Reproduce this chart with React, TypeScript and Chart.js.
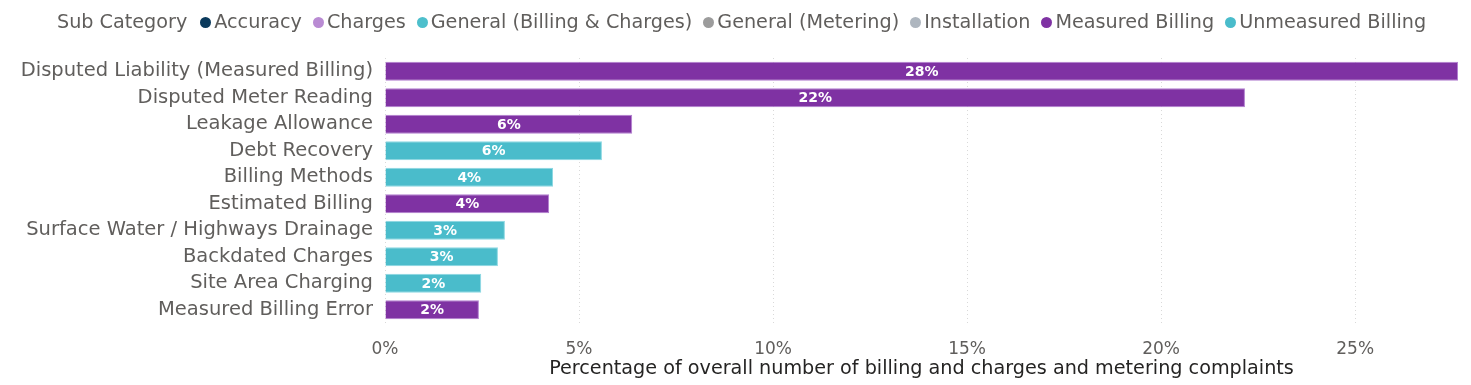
import React, { useEffect, useRef } from 'react';
import { Chart, registerables } from 'chart.js';

Chart.register(...registerables);

const categories = [
  'Disputed Liability (Measured Billing)',
  'Disputed Meter Reading',
  'Leakage Allowance',
  'Debt Recovery',
  'Billing Methods',
  'Estimated Billing',
  'Surface Water / Highways Drainage',
  'Backdated Charges',
  'Site Area Charging',
  'Measured Billing Error',
];

const values = [27.65, 22.16, 6.37, 5.59, 4.33, 4.23, 3.09, 2.91, 2.48, 2.42];

const subCategoryOfBar = [
  'Measured Billing',
  'Measured Billing',
  'Measured Billing',
  'Unmeasured Billing',
  'Unmeasured Billing',
  'Measured Billing',
  'Unmeasured Billing',
  'Unmeasured Billing',
  'Unmeasured Billing',
  'Measured Billing',
];

const legendTitle = 'Sub Category';
const legendItems = [
  'Accuracy',
  'Charges',
  'General (Billing & Charges)',
  'General (Metering)',
  'Installation',
  'Measured Billing',
  'Unmeasured Billing',
];
const legendColors = ['#0B3A5C', '#B98BD3', '#4DBFCC', '#9C9C9C', '#AEB6BF', '#7F32A3', '#4ABCCB'];
const borderColors: Record<string, string> = {
  'Measured Billing': '#B27FD0',
  'Unmeasured Billing': '#8CD8E2',
};

const xTickStep = 5;
const xAxisTitle = 'Percentage of overall number of billing and charges and metering complaints';

const FONT = '"DejaVu Sans", sans-serif';

const colorOf = (s: string) => legendColors[legendItems.indexOf(s)];

const valueLabels = {
  id: 'valueLabels',
  afterDatasetsDraw(chart: any) {
    const ctx = chart.ctx;
    const meta = chart.getDatasetMeta(0);
    ctx.save();
    ctx.font = `bold 14px ${FONT}`;
    ctx.fillStyle = '#ffffff';
    ctx.textAlign = 'center';
    ctx.textBaseline = 'middle';
    meta.data.forEach((el: any, i: number) => {
      const v = chart.data.datasets[0].data[i] as number;
      const cx = (el.x + el.base) / 2;
      ctx.fillText(Math.round(v) + '%', cx, el.y + 1);
    });
    ctx.restore();
  },
};

export default function App() {
  const ref = useRef<HTMLCanvasElement | null>(null);

  useEffect(() => {
    document.body.style.margin = '0';
    if (!ref.current) return;
    const chart = new Chart(ref.current, {
      type: 'bar',
      data: {
        labels: categories,
        datasets: [
          {
            data: values,
            backgroundColor: subCategoryOfBar.map(colorOf),
            borderColor: subCategoryOfBar.map((s) => borderColors[s]),
            borderWidth: 1,
            barPercentage: 0.72,
            categoryPercentage: 1,
          },
        ],
      },
      options: {
        indexAxis: 'y',
        animation: false,
        responsive: false,
        maintainAspectRatio: false,
        layout: { padding: { top: 58, right: 13, bottom: 0, left: 0 } },
        plugins: {
          legend: { display: false },
          tooltip: { enabled: false },
        },
        scales: {
          x: {
            min: 0,
            max: Math.max(...values),
            afterBuildTicks: (scale: any) => {
              scale.ticks = scale.ticks.filter((t: any) => t.value % xTickStep === 0);
            },
            afterFit: (scale: any) => {
              scale.height = 62;
            },
            ticks: {
              stepSize: xTickStep,
              padding: 16,
              color: '#605E5C',
              font: { family: FONT, size: 17 },
              callback: (v: any) => v + '%',
            },
            grid: { color: '#d9d9d9', drawTicks: false, lineWidth: 1 },
            border: { display: false, dash: [1, 3] },
            title: {
              display: true,
              text: xAxisTitle,
              color: '#252423',
              font: { family: FONT, size: 19.2 },
              padding: { top: 0, bottom: 4 },
            },
          },
          y: {
            ticks: {
              padding: 12,
              color: '#605E5C',
              font: { family: FONT, size: 19.5 },
              autoSkip: false,
            },
            grid: { display: false, drawTicks: false },
            border: { display: false },
            afterFit: (scale: any) => {
              scale.width = 385;
            },
          },
        },
      },
      plugins: [valueLabels],
    });
    return () => chart.destroy();
  }, []);

  return (
    <div style={{ position: 'relative', width: 1471, height: 385, background: '#fff' }}>
      <canvas ref={ref} width={1471} height={385} style={{ display: 'block' }} />
      <div
        style={{
          position: 'absolute',
          left: 57,
          top: 11,
          height: 22,
          lineHeight: '22px',
          display: 'flex',
          alignItems: 'center',
          fontFamily: FONT,
          fontSize: 19.2,
          color: '#605E5C',
          whiteSpace: 'nowrap',
        }}
      >
        <span style={{ marginRight: 13 }}>{legendTitle}</span>
        {legendItems.map((name, i) => (
          <span key={name} style={{ display: 'flex', alignItems: 'center', marginRight: 11 }}>
            <span
              style={{
                width: 11,
                height: 11,
                borderRadius: '50%',
                background: legendColors[i],
                marginRight: 3,
                display: 'inline-block',
              }}
            />
            <span>{name}</span>
          </span>
        ))}
      </div>
    </div>
  );
}
